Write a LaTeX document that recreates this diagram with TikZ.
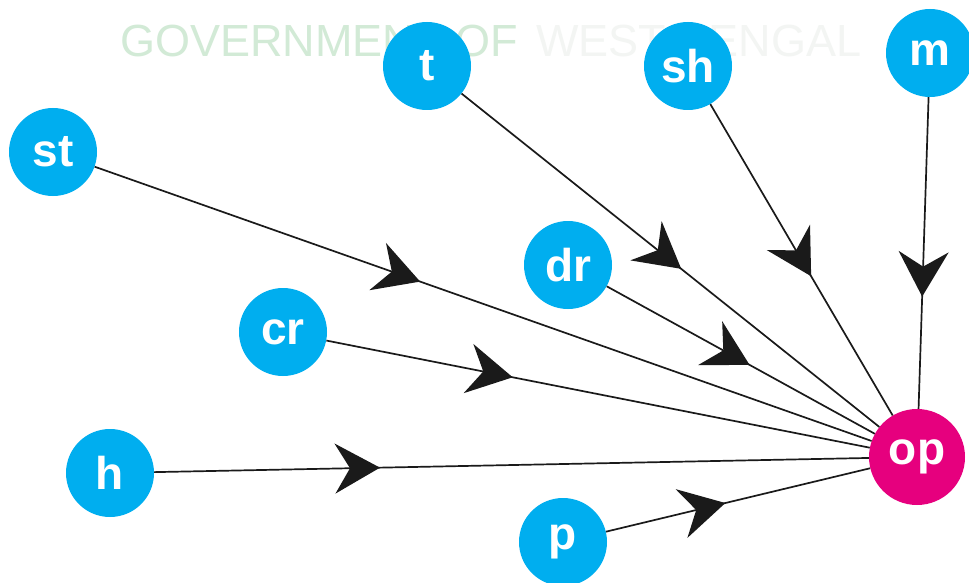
\documentclass[tikz,border=0pt]{standalone}
\usepackage{fontspec}
\setmainfont{Liberation Sans}
\usetikzlibrary{arrows.meta,decorations.markings}
\definecolor{nodeblue}{RGB}{0,174,239}
\definecolor{nodemag}{RGB}{230,0,126}
\definecolor{wmgreen}{RGB}{210,234,214}
\definecolor{wmgrey}{RGB}{243,245,243}
\definecolor{edgecol}{RGB}{26,26,26}
\tikzset{
  x=1pt, y=-1pt,
  bubble/.style={circle, fill=nodeblue, minimum size=88pt, inner sep=0pt,
    text=white, font=\fontsize{46}{46}\selectfont\bfseries},
  target/.style={bubble, fill=nodemag, minimum size=96pt},
  edge/.style={draw=edgecol, line width=1.7pt},
  midarrow/.style={edge, postaction={decorate, decoration={markings,
    mark=at position #1 with {\arrow[edgecol]{Stealth[length=45pt,width=50pt,inset=15pt]}}}}},
  watermark/.style={anchor=base west, inner sep=0pt, font=\fontsize{45}{45}\selectfont}
}
\begin{document}
\begin{tikzpicture}
\useasboundingbox[fill=white] (0,0) rectangle (969,583);
% watermark
\node[watermark, text=wmgreen] (wm1) at (120,57) {GOVERNMENT OF};
\node[watermark, text=wmgrey] (wm2) at (536,57) {WEST BENGAL};
% nodes
\node[target] (op) at (917,457) {op};
\node[bubble] (st) at (53,152) {st};
\node[bubble] (t) at (427,66) {t};
\node[bubble] (sh) at (688,66) {sh};
\node[bubble] (m) at (930,53) {m};
\node[bubble] (dr) at (568,265) {dr};
\node[bubble] (cr) at (283,332) {cr};
\node[bubble] (h) at (110,473) {h};
\node[bubble] (p) at (563,542) {p};
% connectors
\draw[midarrow=0.419] (st) -- (op);
\draw[midarrow=0.343] (cr) -- (op);
\draw[midarrow=0.316] (h) -- (op);
\draw[midarrow=0.452] (p) -- (op);
\draw[midarrow=0.533] (dr) -- (op);
\draw[midarrow=0.526] (t) -- (op);
\draw[midarrow=0.553] (sh) -- (op);
\draw[midarrow=0.64] (m) -- (op);
\end{tikzpicture}
\end{document}
